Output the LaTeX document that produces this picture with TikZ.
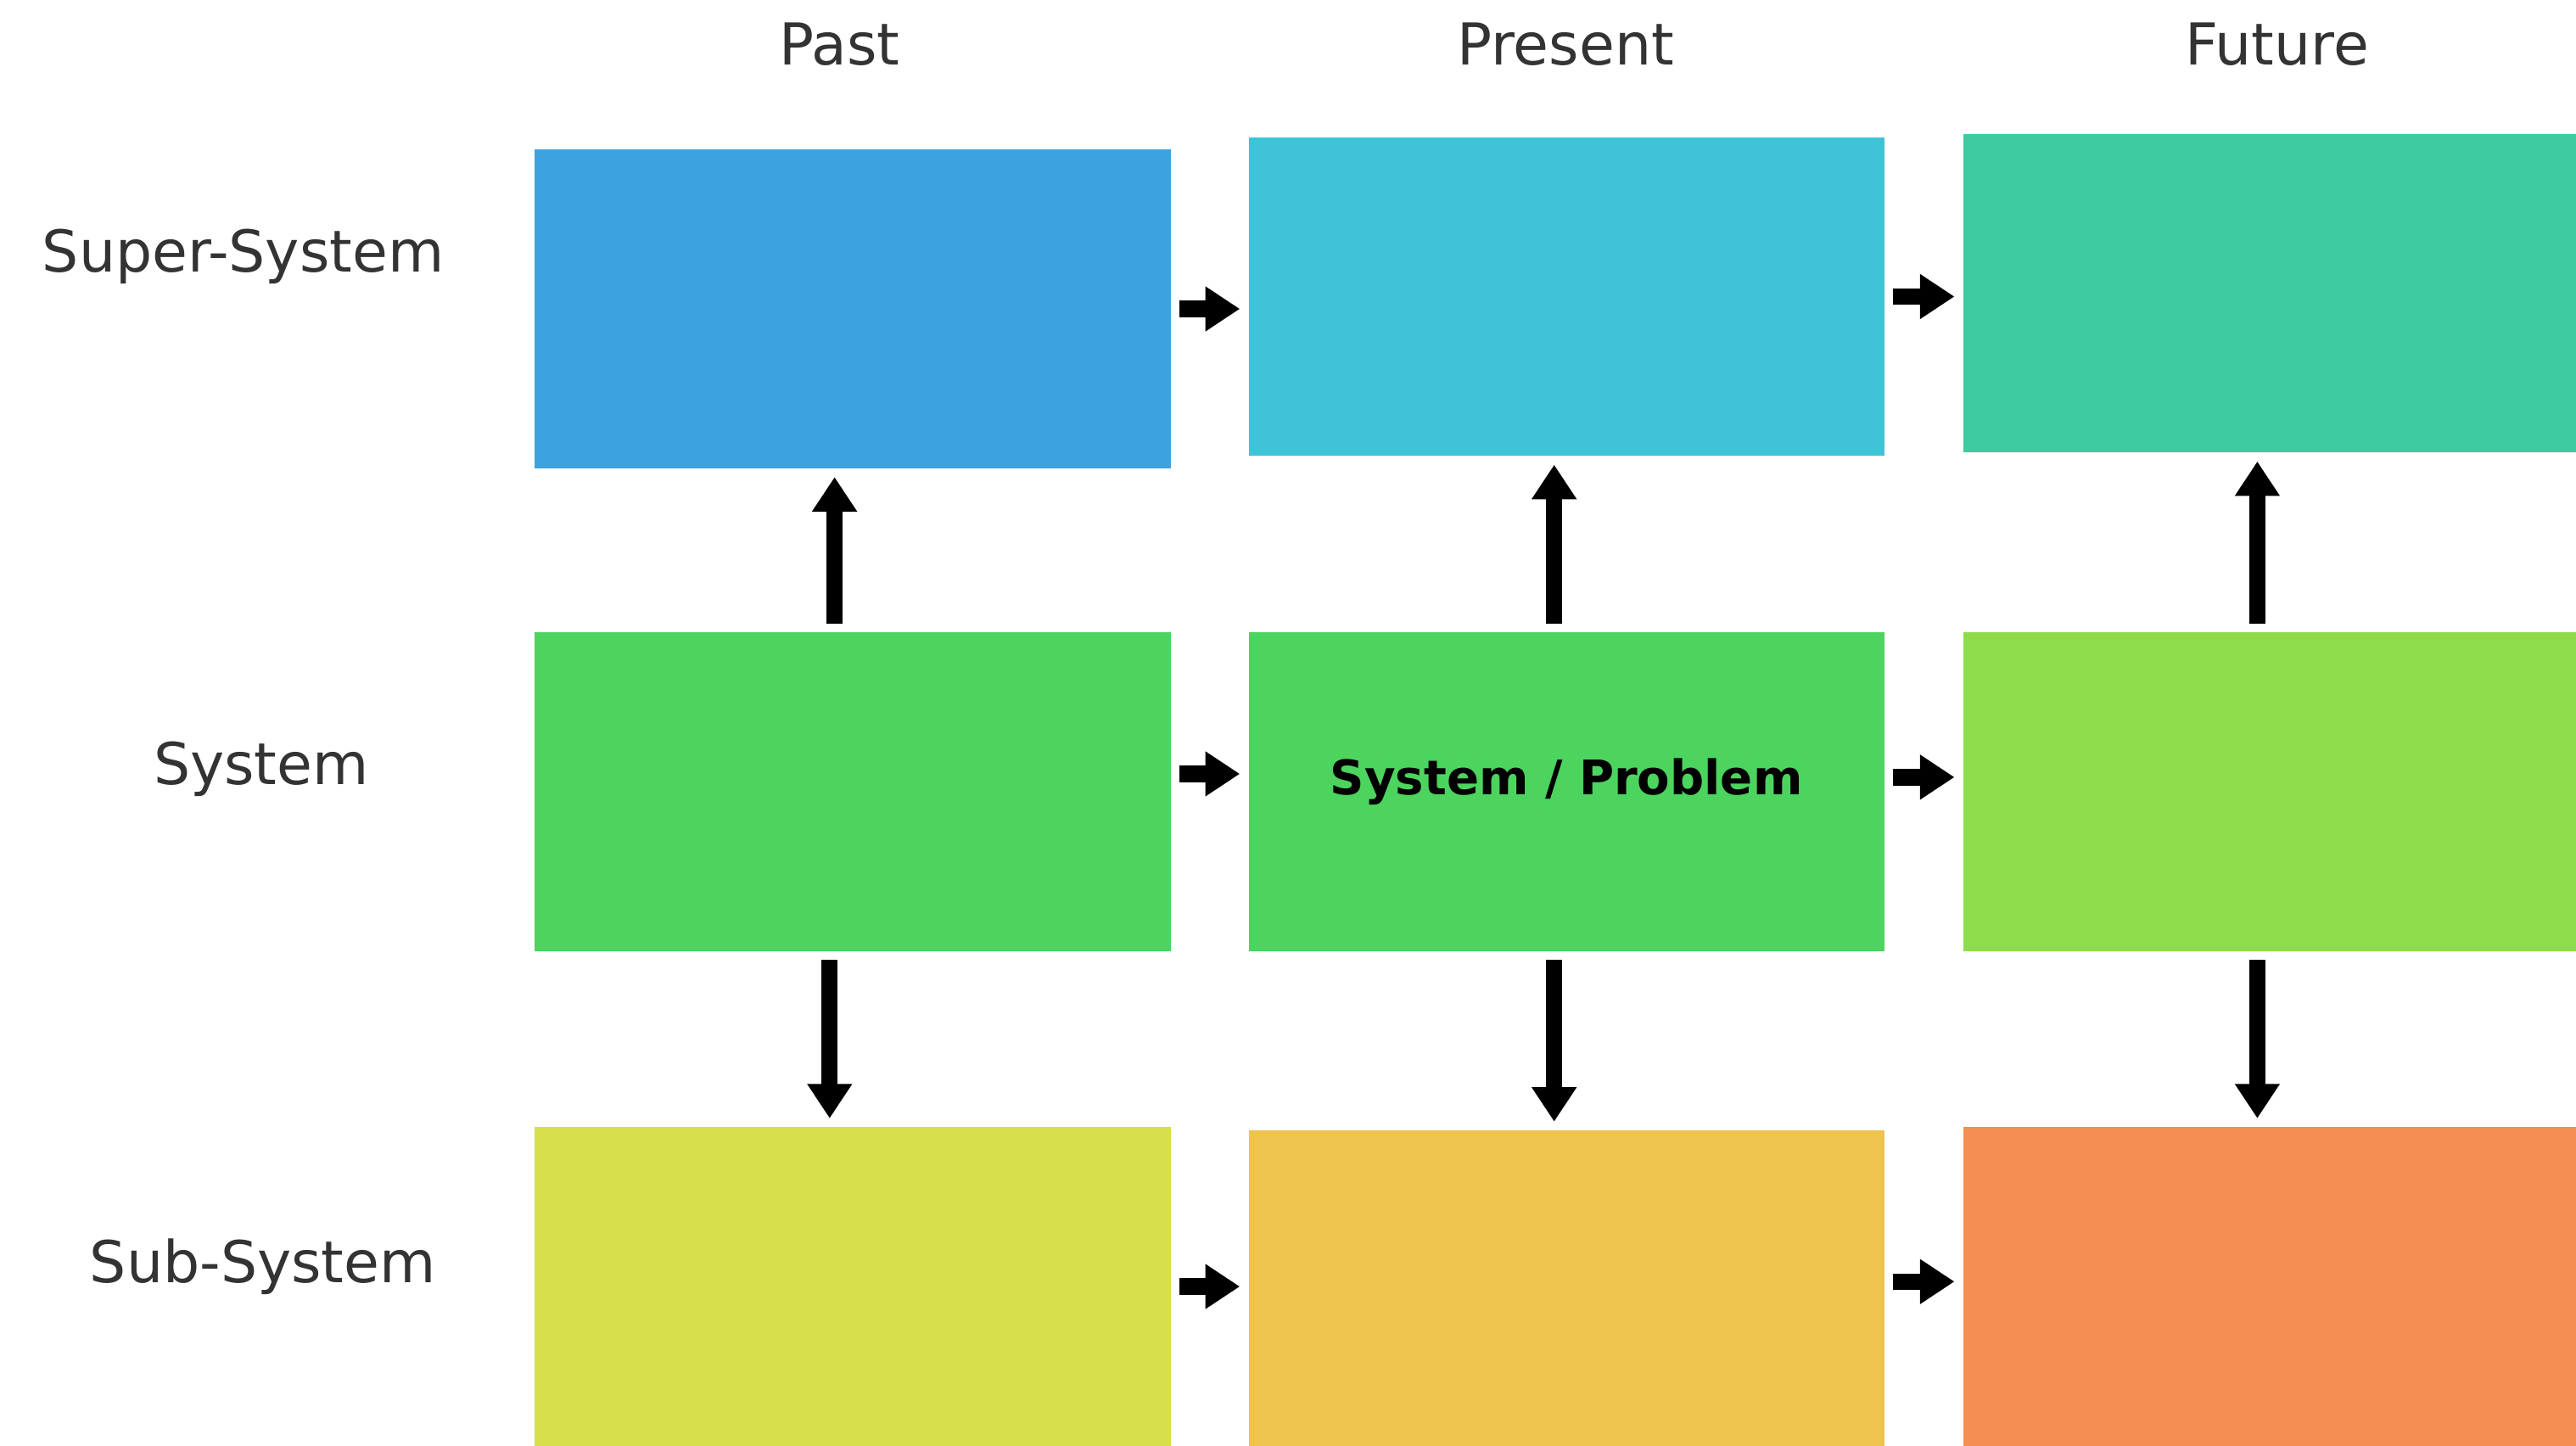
\documentclass[tikz,border=0pt]{standalone}
\usepackage{fontspec}
\setmainfont{DejaVu Sans}
\usetikzlibrary{arrows.meta}
\definecolor{supA}{HTML}{3DA3DF}
\definecolor{supB}{HTML}{3EC4D6}
\definecolor{supC}{HTML}{3ECBA0}
\definecolor{sysA}{HTML}{4CD45E}
\definecolor{sysB}{HTML}{4CD45E}
\definecolor{sysC}{HTML}{8EDC4C}
\definecolor{subA}{HTML}{D6E04C}
\definecolor{subB}{HTML}{EEC34E}
\definecolor{subC}{HTML}{F48E50}
\definecolor{labelgray}{HTML}{333333}
\begin{document}
\begin{tikzpicture}[x=0.02cm,y=0.02cm,
    box/.style={minimum width=7.74cm,minimum height=3.88cm,inner sep=0pt},
    lbl/.style={text=labelgray,font=\fontsize{20}{24}\selectfont},
    link/.style={line width=0.2cm,-{Triangle[width=0.52cm,length=0.42cm]},
      shorten <=0.1cm,shorten >=0.1cm}]
  \useasboundingbox (0,0) rectangle (1568,880);
  \clip (0,0) rectangle (1568,880);
  \node[lbl] (past) at (511,853) {Past};
  \node[lbl] (present) at (953,853) {Present};
  \node[lbl] (future) at (1386,853) {Future};
  \node[lbl] (super) at (148,724) {Super-System};
  \node[lbl] (system) at (159,412) {System};
  \node[lbl] (sub) at (160,109) {Sub-System};
  \node[box,fill=supA] (ssA) at (519,692) {};
  \node[box,fill=supB] (ssB) at (953.5,699.5) {};
  \node[box,fill=supC] (ssC) at (1388.5,701.5) {};
  \node[box,fill=sysA] (sA) at (519,398) {};
  \node[box,fill=sysB,font=\fontsize{16.5}{20}\selectfont\bfseries] (sB) at (953.5,398) {\raisebox{0.38cm}{System / Problem}};
  \node[box,fill=sysC] (sC) at (1388.5,398) {};
  \node[box,fill=subA] (bA) at (519,97) {};
  \node[box,fill=subB] (bB) at (953.5,95) {};
  \node[box,fill=subC] (bC) at (1388.5,97) {};
  \draw[link] (ssA.east) -- (ssA.east -| ssB.west);
  \draw[link] (ssB.east) -- (ssB.east -| ssC.west);
  \draw[link] ([yshift=0.22cm]sA.east) -- ([yshift=0.22cm]sB.west);
  \draw[link] ([yshift=0.18cm]sB.east) -- ([yshift=0.18cm]sC.west);
  \draw[link] (bA.east) -- (bA.east -| bB.west);
  \draw[link] ([yshift=0.1cm]bB.east) -- ([yshift=0.1cm]bB.east -| bC.west);
  \draw[link] ([xshift=-0.22cm]sA.north) -- ([xshift=-0.22cm]ssA.south);
  \draw[link] ([xshift=-0.15cm]sB.north) -- ([xshift=-0.15cm]ssB.south);
  \draw[link] ([xshift=-0.29cm]sC.north) -- ([xshift=-0.29cm]ssC.south);
  \draw[link] ([xshift=-0.28cm]sA.south) -- ([xshift=-0.28cm]bA.north);
  \draw[link] ([xshift=-0.15cm]sB.south) -- ([xshift=-0.15cm]bB.north);
  \draw[link] ([xshift=-0.29cm]sC.south) -- ([xshift=-0.29cm]bC.north);
\end{tikzpicture}
\end{document}
